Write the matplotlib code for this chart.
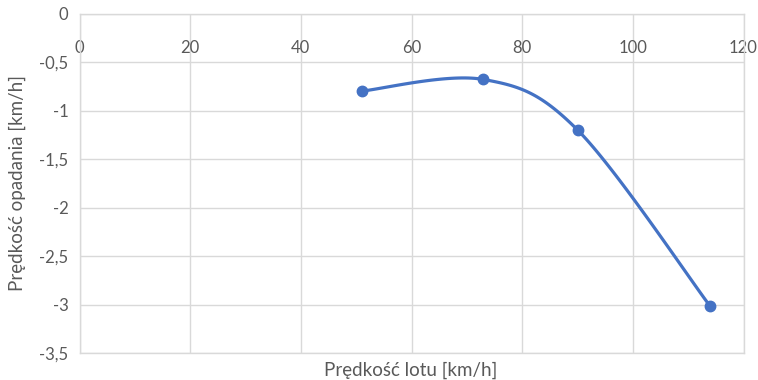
import numpy as np
import matplotlib.pyplot as plt

# Dane z wykresu
predkosc_lotu = [51, 73, 90, 114]
predkosc_opadania = [-0.8, -0.68, -1.2, -3.02]
x_ticks = [0, 20, 40, 60, 80, 100, 120]
y_ticks = [0, -0.5, -1, -1.5, -2, -2.5, -3, -3.5]

kolor = '#4472C4'
szary = '#595959'
siatka = '#D9D9D9'

plt.rcParams['font.family'] = ['Lato', 'DejaVu Sans']


# Wygladzanie linii jak w Excelu (krzywe Beziera)
def wygladz(xs, ys, n=40):
    p = np.column_stack([xs, ys]).astype(float)
    out = []
    for i in range(len(p) - 1):
        p0 = p[i - 1] if i > 0 else p[i]
        p1 = p[i]
        p2 = p[i + 1]
        p3 = p[i + 2] if i + 2 < len(p) else p[i + 1]
        c1 = p1 + (p2 - p0) / 6
        c2 = p2 - (p3 - p1) / 6
        t = np.linspace(0, 1, n)[:, None]
        seg = ((1 - t) ** 3) * p1 + 3 * ((1 - t) ** 2) * t * c1 + 3 * (1 - t) * t ** 2 * c2 + t ** 3 * p2
        out.append(seg if i == 0 else seg[1:])
    out = np.vstack(out)
    return out[:, 0], out[:, 1]


fig = plt.figure(figsize=(7.58, 3.8), dpi=100)
ax = fig.add_axes([79.5 / 758, 1 - 353 / 380, (743.5 - 79.5) / 758, (353 - 13.5) / 380])

sx, sy = wygladz(predkosc_lotu, predkosc_opadania)
ax.plot(sx, sy, color=kolor, linewidth=2.3, solid_capstyle='round', zorder=3)
ax.plot(predkosc_lotu, predkosc_opadania, 'o', color=kolor, markersize=7.5, zorder=4)

ax.set_xlim(0, 120)
ax.set_ylim(-3.5, 0)
ax.set_xticks(x_ticks)
ax.set_yticks(y_ticks)
ax.set_xticklabels([str(v) for v in x_ticks])
ax.set_yticklabels(['0' if v == 0 else f'{v:g}'.replace('.', ',') for v in y_ticks])
ax.xaxis.tick_top()
ax.tick_params(axis='both', length=0, colors=szary, labelsize=12)
ax.tick_params(axis='y', pad=8)
# etykiety osi X pod linia y=0 (wewnatrz wykresu)
for lab in ax.get_xticklabels():
    lab.set_verticalalignment('top')
ax.tick_params(axis='x', pad=-19)

ax.grid(True, color=siatka, linewidth=1)
ax.set_axisbelow(True)
for s in ax.spines.values():
    s.set_color(siatka)
    s.set_linewidth(1)

fig.text(411 / 758, 1 - 370 / 380, 'Prędkość lotu [km/h]', ha='center', va='center',
         color=szary, fontsize=13.5)
fig.text(17 / 758, 1 - 183 / 380, 'Prędkość opadania [km/h]', ha='center', va='center',
         rotation=90, color=szary, fontsize=13.5)

fig.savefig('out.png', dpi=100)
